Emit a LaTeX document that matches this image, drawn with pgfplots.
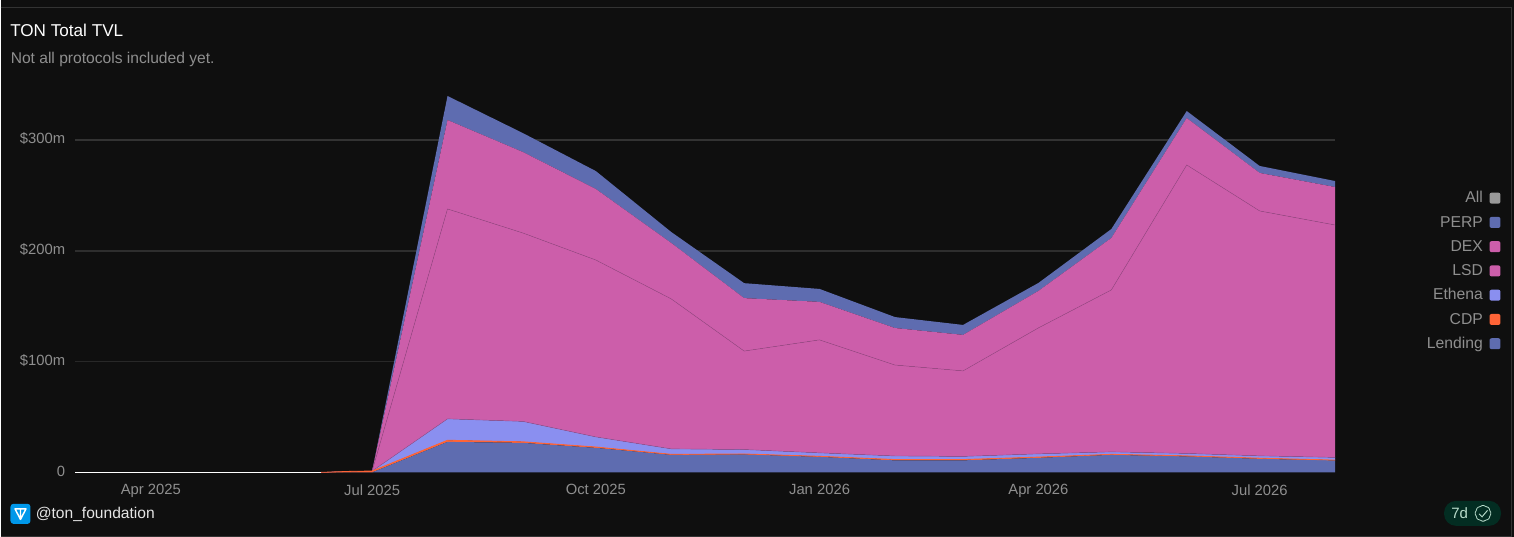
\documentclass[border=0pt]{standalone}
\usepackage{fontspec}
\setmainfont{Liberation Sans}
\usepackage{pgfplots}
\usepackage{pgfplotstable}
\pgfplotsset{compat=1.18}
\usetikzlibrary{shapes.geometric}

\definecolor{bg}{HTML}{0F0F0F}
\definecolor{frame}{HTML}{333333}
\definecolor{gridc}{HTML}{333333}
\definecolor{labelc}{HTML}{8F8F8F}
\definecolor{perpc}{HTML}{5E6CB0}
\definecolor{dexc}{HTML}{CC5EAA}
\definecolor{ethc}{HTML}{8A8FF0}
\definecolor{cdpc}{HTML}{FF6437}
\definecolor{seam}{HTML}{9A4A86}
\definecolor{allc}{HTML}{999999}
\definecolor{tonc}{HTML}{0098EA}
\definecolor{pillc}{HTML}{032D22}
\definecolor{pilltext}{HTML}{B9DCCB}

% x is days since 1 Apr 2025, values in $m
\pgfplotstableread{
day lending cdp ethena lsd dex perp
-31 0    0   0    0     0    0
70  0    0   0    0     0    0
82  0    0.9 0    0     0    0
91  0    1.2 0    0     0    0
122 27.5 1.5 19.3 189.5 80.3 21.7
153 26.6 1.0 18.4 170.1 73.1 17.1
183 22.1 0.8 9.1  159.7 64.1 16.2
214 15.8 0.5 4.9  135.4 50.5 9.9
244 16.2 0.4 4.0  88.9  47.8 13.5
275 14.0 0.5 3.1  102.0 34.3 11.7
306 10.8 0.8 3.2  82.1  33.4 9.9
334 10.8 0.8 2.8  77.2  32.5 9.0
365 13.1 0.7 2.9  113.7 33.4 7.2
395 15.8 0.5 2.2  146.2 46.9 8.1
426 14.4 0.5 2.2  260.4 42.4 6.3
456 12.2 0.6 2.1  221.1 34.3 6.3
487 10.8 0.3 2.4  209.8 34.3 5.4
}\tvl

\begin{document}
\begin{tikzpicture}[x=0.75pt,y=-0.75pt]
\fill[bg] (0,0) rectangle (1514,537);
\draw[frame,line width=0.75pt] (0,7.5) -- (1511.5,7.5) -- (1511.5,536.5) -- (0,536.5);

% grid lines fade towards the bottom in the original
\draw[gridc,line width=1.2pt] (75,140) -- (1335,140);
\draw[gridc!85!bg,line width=0.9pt] (75,251) -- (1335,251);
\draw[gridc!70!bg,line width=0.7pt] (75,361.5) -- (1335,361.5);

\begin{axis}[
    at={(56.25pt,-354.375pt)}, anchor=south west,
    scale only axis,
    width=945pt, height=290.6pt,
    stack plots=y,
    clip=false,
    xmin=-31, xmax=487,
    ymin=0, ymax=349.7,
    axis line style={draw=none},
    major tick length=0pt,
    ytick={0,100,200,300},
    yticklabels={0,\$100m,\$200m,\$300m},
    xtick={0,91,183,275,365,456},
    xticklabels={Apr 2025,Jul 2025,Oct 2025,Jan 2026,Apr 2026,Jul 2026},
    tick label style={font=\fontsize{11.1}{13}\selectfont,text=labelc},
    xticklabel style={yshift=-5.5pt},
    yticklabel style={xshift=-4.2pt,yshift=0.8pt},
    legend image code/.code={\fill[#1,rounded corners=1.5pt] (0pt,-3.4pt) rectangle (8.2pt,4.8pt);},
    legend plot pos=right,
    legend reversed,
    legend cell align=right,
    legend style={
        at={(1.1313,0.7265)}, anchor=north east,
        draw=none, fill=none, inner sep=0pt, outer sep=0pt,
        font=\fontsize{11.8}{13}\selectfont, text=labelc,
        row sep=6pt,
        nodes={inner sep=0pt,text height=9pt,text depth=3.2pt},
        /tikz/column 1/.style={column sep=5pt},
    },
]
\addplot[fill=perpc,draw=none] table[x=day,y=lending] {\tvl} \closedcycle;
\addlegendentry{Lending}
\addplot[fill=cdpc,draw=none] table[x=day,y=cdp] {\tvl} \closedcycle;
\addlegendentry{CDP}
\addplot[fill=ethc,draw=none] table[x=day,y=ethena] {\tvl} \closedcycle;
\addlegendentry{Ethena}
\addplot[fill=dexc,draw=none] table[x=day,y=lsd] {\tvl} \closedcycle;
\addlegendentry{LSD}
\addplot[fill=dexc,draw=none] table[x=day,y=dex] {\tvl} \closedcycle;
\addlegendentry{DEX}
\addplot[fill=perpc,draw=none] table[x=day,y=perp] {\tvl} \closedcycle;
\addlegendentry{PERP}
\addlegendimage{fill=allc,draw=none}
\addlegendentry{All}
\end{axis}

% seams between the stacked areas, same box as the first axis
\begin{axis}[
    at={(56.25pt,-354.375pt)}, anchor=south west,
    scale only axis,
    width=945pt, height=290.6pt,
    clip=false,
    hide axis,
    xmin=-31, xmax=487,
    ymin=0, ymax=349.7,
]
\addplot[seam,line width=0.35pt,restrict x to domain=91:487]
    table[x=day,y expr=\thisrow{lending}+\thisrow{cdp}+\thisrow{ethena}+\thisrow{lsd}] {\tvl};
\addplot[seam,line width=0.3pt,restrict x to domain=91:487]
    table[x=day,y expr=\thisrow{lending}+\thisrow{cdp}+\thisrow{ethena}] {\tvl};
\addplot[cdpc,line width=0.6pt,restrict x to domain=70:487]
    table[x=day,y expr=\thisrow{lending}+\thisrow{cdp}] {\tvl};
\addplot[white,line width=0.8pt,restrict x to domain=-31:70]
    table[x=day,y expr=0] {\tvl};
\end{axis}

\node[anchor=base west,inner sep=0pt,text=white,font=\fontsize{12.85}{15}\selectfont] at (9.5,37) {TON Total TVL};
\node[anchor=base west,inner sep=0pt,text=labelc,font=\fontsize{11.7}{14}\selectfont] at (10,63.5) {Not all protocols included yet.};

% handle and logo
\fill[tonc,rounded corners=2.2pt] (10,504) rectangle (30,524);
\draw[white,line width=1.1pt,line join=round] (14.5,509) -- (25.5,509) -- (20,519.5) -- cycle (20,509) -- (20,519.5);
\node[anchor=base west,inner sep=0pt,text=white!90!black,font=\fontsize{11.7}{13}\selectfont] at (35,518.5) {@ton\_foundation};

% freshness pill
\fill[pillc,rounded corners=9pt] (1444,501) rectangle (1501,526);
\node[anchor=base west,inner sep=0pt,text=pilltext,font=\fontsize{11.25}{13}\selectfont] at (1451,519) {7d};
\node[star,star points=8,star point ratio=1.15,minimum size=12.5pt,inner sep=0pt,draw=pilltext,line width=0.6pt,rounded corners=0.8pt] at (1483,513.5) {};
\draw[pilltext,line width=0.7pt] (1479,514) -- (1482,517) -- (1487.5,510.5);
\end{tikzpicture}
\end{document}
